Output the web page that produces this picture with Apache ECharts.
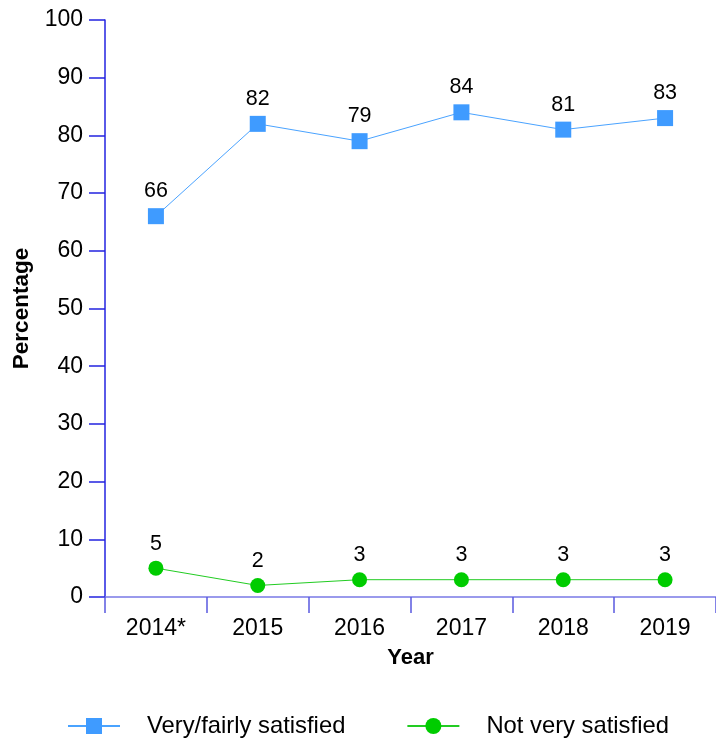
<!DOCTYPE html>
<html>
<head>
<meta charset="utf-8">
<script src="https://cdn.jsdelivr.net/npm/echarts@6/dist/echarts.min.js"></script>
<style>html,body{margin:0;padding:0;background:#fff}#c{width:716px;height:740px}</style>
</head>
<body>
<div id="c"></div>
<script>
const years = ['2014*', '2015', '2016', '2017', '2018', '2019'];
const satisfied = [66, 82, 79, 84, 81, 83];
const notSatisfied = [5, 2, 3, 3, 3, 3];
const seriesNames = ['Very/fairly satisfied', 'Not very satisfied'];

const chart = echarts.init(document.getElementById('c'));
const font = 'Liberation Sans, Arial, Helvetica, sans-serif';
chart.setOption({
  animation: false,
  backgroundColor: '#fff',
  textStyle: { fontFamily: font },
  grid: { left: 105, top: 20, right: -7, bottom: 143, containLabel: false },
  legend: {
    left: 62, top: 709,
    itemWidth: 52, itemHeight: 20, itemGap: 61,
    textStyle: { fontSize: 23.8, color: '#000', fontFamily: font, padding: [0, 0, 0, 22] },
    data: seriesNames
  },
  xAxis: {
    type: 'category', data: years, boundaryGap: true,
    name: 'Year', nameLocation: 'middle', nameGap: 50,
    nameTextStyle: { fontSize: 22, fontWeight: 'bold', color: '#000', fontFamily: font },
    axisLine: { lineStyle: { color: '#7a7ae6', width: 1.5 } },
    axisTick: { show: true, length: 16, alignWithLabel: false, lineStyle: { color: '#5a5ae0', width: 1.5 } },
    axisLabel: { fontSize: 23, color: '#000', margin: 20, fontFamily: font },
    splitLine: { show: false }
  },
  yAxis: {
    type: 'value', min: 0, max: 100, interval: 10,
    name: 'Percentage', nameLocation: 'middle', nameGap: 66, nameRotate: 90,
    nameTextStyle: { fontSize: 22.5, fontWeight: 'bold', color: '#000', fontFamily: font },
    axisLine: { show: true, lineStyle: { color: '#2323e0', width: 1.5 } },
    axisTick: { show: true, length: 16, lineStyle: { color: '#2323e0', width: 1.5 } },
    axisLabel: { fontSize: 23, color: '#000', margin: 22, fontFamily: font },
    splitLine: { show: false }
  },
  series: [
    {
      name: seriesNames[0], type: 'line', data: satisfied,
      symbol: 'rect', symbolSize: 16,
      itemStyle: { color: '#3f9bff' },
      lineStyle: { color: '#4aa3ff', width: 1 },
      label: { show: true, position: 'top', distance: 6, fontSize: 21.5, color: '#000', fontFamily: font }
    },
    {
      name: seriesNames[1], type: 'line', data: notSatisfied,
      symbol: 'circle', symbolSize: 15,
      itemStyle: { color: '#00cc00' },
      lineStyle: { color: '#22cc22', width: 1 },
      label: { show: true, position: 'top', distance: 6, fontSize: 21.5, color: '#000', fontFamily: font }
    }
  ]
});
</script>
</body>
</html>
